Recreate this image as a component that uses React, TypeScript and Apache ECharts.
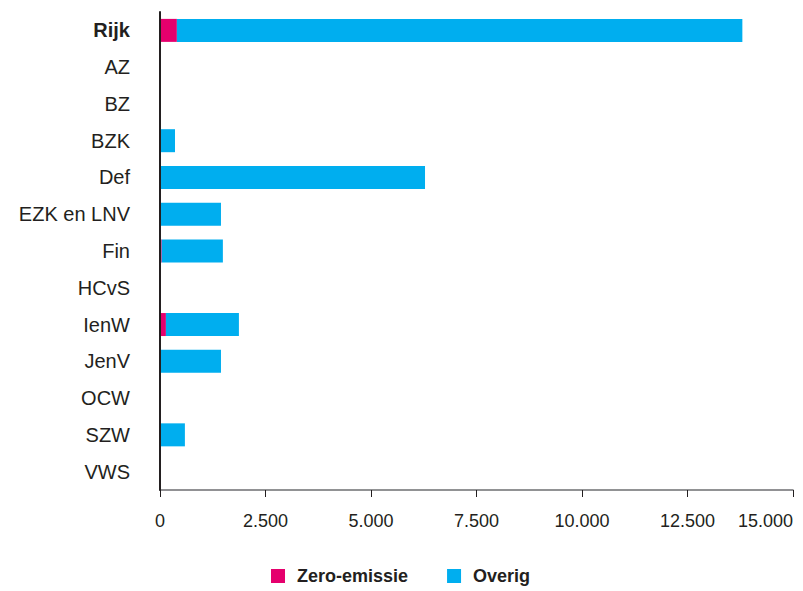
import React, { useEffect, useRef } from "react";
import * as echarts from "echarts";

const categories = ["Rijk", "AZ", "BZ", "BZK", "Def", "EZK en LNV", "Fin", "HCvS", "IenW", "JenV", "OCW", "SZW", "VWS"];
const zeroEmissie = [400, 0, 0, 0, 0, 0, 40, 0, 140, 0, 0, 0, 0];
const overig = [13400, 0, 0, 355, 6280, 1445, 1450, 0, 1730, 1445, 0, 590, 20];
const xTicks = [0, 2500, 5000, 7500, 10000, 12500, 15000];

const FONT = "'Liberation Sans', Arial, Helvetica, sans-serif";

export default function App() {
  const ref = useRef<HTMLDivElement>(null);
  useEffect(() => {
    if (!ref.current) return;
    const chart = echarts.init(ref.current, undefined, { renderer: "svg" });
    chart.setOption({
      animation: false,
      textStyle: { fontFamily: FONT },
      grid: { left: 160, right: 10, top: 12, bottom: 101, containLabel: false },
      legend: {
        top: 567,
        left: 271,
        padding: 0,
        itemWidth: 14,
        itemHeight: 14,
        itemGap: 39,
        icon: "rect",
        textStyle: { fontFamily: FONT, fontSize: 18, fontWeight: "bold", color: "#231f20", padding: [0, 0, 0, 7] },
        data: ["Zero-emissie", "Overig"],
      },
      xAxis: {
        type: "value",
        min: xTicks[0],
        max: xTicks[xTicks.length - 1],
        interval: 2500,
        splitLine: { show: false },
        axisLine: { show: true, lineStyle: { color: "#6d6e71", width: 1.5 } },
        axisTick: { show: true, length: 7, lineStyle: { color: "#231f20", width: 1 } },
        axisLabel: {
          margin: 22,
          fontSize: 18,
          color: "#231f20",
          fontFamily: FONT,
          alignMaxLabel: "right",
          formatter: (v: number) => v.toLocaleString("de-DE"),
        },
      },
      yAxis: {
        type: "category",
        data: categories,
        inverse: true,
        axisLine: { show: true, lineStyle: { color: "#231f20", width: 2 } },
        axisTick: { show: false },
        axisLabel: {
          margin: 30,
          fontSize: 20,
          color: "#231f20",
          fontFamily: FONT,
          formatter: (v: string) => (v === "Rijk" ? "{b|" + v + "}" : v),
          rich: { b: { fontWeight: "bold", fontSize: 20, fontFamily: FONT, color: "#231f20" } },
        },
        z: 10,
      },
      series: [
        {
          name: "Zero-emissie",
          type: "bar",
          stack: "total",
          data: zeroEmissie,
          barWidth: 23,
          itemStyle: { color: "#e5006d" },
        },
        {
          name: "Overig",
          type: "bar",
          stack: "total",
          data: overig,
          barWidth: 23,
          itemStyle: { color: "#00aeef" },
        },
      ],
    });
    return () => chart.dispose();
  }, []);
  return <div ref={ref} style={{ width: 803, height: 591, position: "absolute", left: 0, top: 0 }} />;
}
